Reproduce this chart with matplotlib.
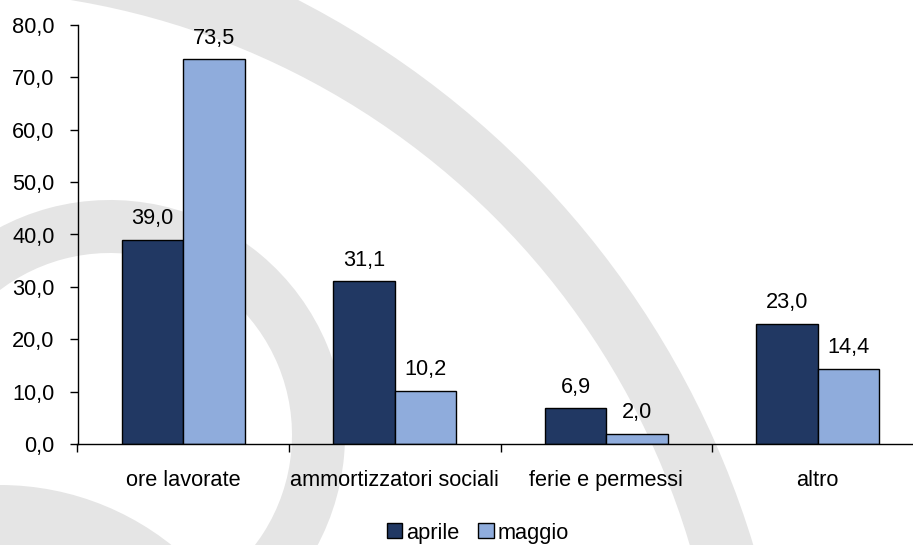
import numpy as np
import matplotlib
matplotlib.use("Agg")
import matplotlib.pyplot as plt
from matplotlib.patches import Wedge, Circle
from matplotlib.transforms import Affine2D

# data
categories = ["ore lavorate", "ammortizzatori sociali", "ferie e permessi", "altro"]
aprile = [39.0, 31.1, 6.9, 23.0]
maggio = [73.5, 10.2, 2.0, 14.4]
series_names = ["aprile", "maggio"]
y_ticks = [0, 10, 20, 30, 40, 50, 60, 70, 80]

col_dark = "#213863"
col_light = "#8FACDC"
wm_grey = "#e5e5e5"

plt.rcParams["font.family"] = ["Liberation Sans", "DejaVu Sans"]
plt.rcParams["font.size"] = 15.7

W, H = 913, 545
fig = plt.figure(figsize=(W / 100, H / 100), dpi=100)

# background watermark (grey arcs), drawn in pixel units with y going up
px = Affine2D().scale(1 / 100) + fig.dpi_scale_trans
fig.patches.append(Circle((-119, -266), 912, facecolor=wm_grey, edgecolor="none", transform=px, zorder=0))
fig.patches.append(Circle((-54.5, -221.4), 776.5, facecolor="white", edgecolor="none", transform=px, zorder=0))
fig.patches.append(Wedge((110, 110), 235, -60, 160, width=53, facecolor=wm_grey,
                         edgecolor="none", transform=px, zorder=0))
fig.patches.append(Wedge((0, -215), 275, 0, 90, facecolor=wm_grey,
                         edgecolor="none", transform=px, zorder=0))

ax = fig.add_axes([77.5 / W, 101 / H, 846 / W, 419 / H])
ax.set_zorder(1)
ax.patch.set_visible(False)

x = np.arange(len(categories))
w = 0.29
b1 = ax.bar(x - w / 2, aprile, w, color=col_dark, edgecolor="black", linewidth=1, label=series_names[0])
b2 = ax.bar(x + w / 2, maggio, w, color=col_light, edgecolor="black", linewidth=1, label=series_names[1])

for bars, vals in [(b1, aprile), (b2, maggio)]:
    for rect, v in zip(bars, vals):
        ax.annotate(f"{v:.1f}".replace(".", ","), (rect.get_x() + rect.get_width() / 2, v),
                    xytext=(0, 11), textcoords="offset points", ha="center", va="baseline")

ax.set_xlim(-0.5, len(categories) - 0.5)
ax.set_ylim(0, 80)
ax.set_yticks(y_ticks, [f"{t:.1f}".replace(".", ",") for t in y_ticks])
ax.set_xticks(x, categories)
ax.set_xticks(np.arange(-0.5, len(categories), 1), minor=True)
ax.tick_params(axis="x", which="major", length=0, pad=19)
ax.tick_params(axis="x", which="minor", length=5.5, width=1, direction="out")
ax.tick_params(axis="y", length=5.5, width=1, direction="out", pad=11)

for s in ["top", "right"]:
    ax.spines[s].set_visible(False)
for s in ["left", "bottom"]:
    ax.spines[s].set_linewidth(1)
    ax.spines[s].set_color("black")

ax.legend(loc="center", bbox_to_anchor=(478 / W, 12 / H), bbox_transform=fig.transFigure,
          ncol=2, frameon=False, handlelength=0.69, handleheight=0.69,
          handletextpad=0.18, columnspacing=0.87, borderpad=0)

fig.savefig("out.png", dpi=100)
